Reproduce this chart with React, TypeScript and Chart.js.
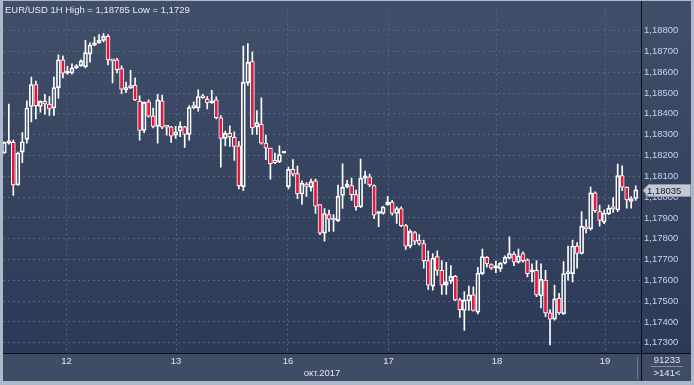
import React, { useEffect, useRef } from 'react';
import { Chart, registerables } from 'chart.js';

Chart.register(...registerables);

// ---- data (EUR/USD, 1H candles, 141 bars) ----
const opens = [
  1.18212, 1.18259, 1.18263, 1.18059, 1.18216, 1.18277, 1.18435, 1.18541, 1.18435, 1.1846,
  1.18447, 1.18428, 1.18526, 1.18659, 1.18595, 1.18596, 1.1862, 1.18631, 1.18626, 1.18687,
  1.1873, 1.18741, 1.18753, 1.18772, 1.18659, 1.18659, 1.18617, 1.18515, 1.18526, 1.18537,
  1.1846, 1.1832, 1.18458, 1.18389, 1.1834, 1.18463, 1.1834, 1.18337, 1.18298, 1.18317,
  1.18337, 1.18301, 1.1843, 1.18428, 1.18483, 1.18471, 1.18453, 1.18467, 1.18381, 1.18282,
  1.18306, 1.18287, 1.18246, 1.1805, 1.18549, 1.18651, 1.18337, 1.1835, 1.18259, 1.18235,
  1.18176, 1.18169, 1.18212, 1.1805, 1.18133, 1.18113, 1.18015, 1.18062, 1.18047, 1.18078,
  1.17964, 1.17827, 1.17916, 1.17893, 1.17887, 1.18008, 1.1805, 1.18055, 1.18012, 1.17953,
  1.18091, 1.18097, 1.18055, 1.17921, 1.17921, 1.17964, 1.17976, 1.17921, 1.17945, 1.17863,
  1.17764, 1.1783, 1.17794, 1.17777, 1.17695, 1.17572, 1.17714, 1.17648, 1.17577, 1.17596,
  1.17619, 1.17506, 1.17455, 1.17502, 1.1753, 1.17447, 1.17632, 1.1771, 1.17676, 1.1766,
  1.17656, 1.17682, 1.17706, 1.17726, 1.17687, 1.17729, 1.17698, 1.1764, 1.17648, 1.17525,
  1.17601, 1.17444, 1.17414, 1.17514, 1.17439, 1.17632, 1.17632, 1.17765, 1.17729, 1.17855,
  1.17847, 1.1802, 1.1793, 1.17879, 1.17919, 1.17951, 1.17938, 1.18103, 1.18048, 1.17979,
  1.17993,
];
const highs = [
  1.18265, 1.18447, 1.18274, 1.18216, 1.1831, 1.18463, 1.18576, 1.18557, 1.18463, 1.18494,
  1.18483, 1.18577, 1.18683, 1.18679, 1.18628, 1.1864, 1.18636, 1.18659, 1.18753, 1.18741,
  1.18769, 1.18781, 1.18785, 1.18781, 1.18659, 1.18667, 1.18631, 1.18552, 1.18609, 1.18573,
  1.18486, 1.18458, 1.18467, 1.18427, 1.18494, 1.1849, 1.18345, 1.1834, 1.1834, 1.18361,
  1.1834, 1.18439, 1.18458, 1.18515, 1.18494, 1.18483, 1.18513, 1.18482, 1.18392, 1.18317,
  1.18342, 1.18314, 1.18267, 1.18725, 1.18738, 1.18698, 1.18416, 1.18477, 1.18298, 1.18235,
  1.18212, 1.18246, 1.18212, 1.18144, 1.1818, 1.18149, 1.18078, 1.1807, 1.18086, 1.18086,
  1.17964, 1.17945, 1.17937, 1.17916, 1.18058, 1.1816, 1.18081, 1.18091, 1.18034, 1.18183,
  1.18125, 1.1811, 1.18059, 1.17929, 1.17956, 1.18004, 1.17984, 1.17953, 1.17953, 1.17869,
  1.17843, 1.17835, 1.1782, 1.17794, 1.17742, 1.17729, 1.17742, 1.17695, 1.17687, 1.17671,
  1.17624, 1.17514, 1.17546, 1.17572, 1.17569, 1.17663, 1.1775, 1.17714, 1.17679, 1.17692,
  1.17687, 1.17718, 1.17809, 1.17737, 1.1775, 1.17737, 1.17703, 1.17679, 1.17695, 1.17679,
  1.17648, 1.17459, 1.17577, 1.17538, 1.1769, 1.17765, 1.17794, 1.17781, 1.1793, 1.17892,
  1.18048, 1.18025, 1.17962, 1.17938, 1.17962, 1.17998, 1.18158, 1.1815, 1.18049, 1.18003,
  1.18054,
];
const lows = [
  1.1821, 1.18254, 1.18008, 1.18056, 1.18165, 1.18259, 1.18361, 1.18376, 1.18408, 1.18397,
  1.18392, 1.18392, 1.18475, 1.18573, 1.18591, 1.18591, 1.18617, 1.18628, 1.1862, 1.18648,
  1.18727, 1.18738, 1.18745, 1.18635, 1.18549, 1.18596, 1.18497, 1.18502, 1.18521, 1.18463,
  1.18274, 1.18309, 1.18384, 1.18332, 1.18259, 1.18329, 1.18298, 1.18263, 1.18282, 1.1829,
  1.18238, 1.18274, 1.18424, 1.18413, 1.18474, 1.18424, 1.1845, 1.18376, 1.18144, 1.18246,
  1.18243, 1.18176, 1.18039, 1.18031, 1.18537, 1.18301, 1.18301, 1.18254, 1.1818, 1.18086,
  1.1816, 1.18165, 1.18212, 1.18039, 1.18102, 1.17992, 1.17965, 1.18003, 1.18028, 1.17921,
  1.17819, 1.17788, 1.17835, 1.17835, 1.17882, 1.17945, 1.18044, 1.17984, 1.17937, 1.17949,
  1.18066, 1.1805, 1.17896, 1.17858, 1.17918, 1.1796, 1.17913, 1.17874, 1.17858, 1.17748,
  1.17756, 1.17772, 1.17769, 1.17659, 1.17557, 1.17553, 1.17624, 1.17533, 1.17533, 1.17585,
  1.17502, 1.17422, 1.17359, 1.17455, 1.17452, 1.17439, 1.17627, 1.17663, 1.17652, 1.17637,
  1.17643, 1.17679, 1.17703, 1.17671, 1.17682, 1.17687, 1.17616, 1.17593, 1.17522, 1.17467,
  1.17425, 1.1729, 1.17409, 1.17436, 1.17436, 1.17601, 1.17593, 1.17659, 1.17726, 1.17828,
  1.17841, 1.17926, 1.1786, 1.17872, 1.17915, 1.17926, 1.1793, 1.18031, 1.17947, 1.17947,
  1.17984,
];
const closes = [
  1.18263, 1.1827, 1.18059, 1.18212, 1.18266, 1.18428, 1.18541, 1.18439, 1.1846, 1.18447,
  1.18424, 1.18526, 1.18659, 1.18595, 1.18596, 1.1862, 1.18631, 1.18654, 1.18694, 1.1873,
  1.18741, 1.18753, 1.18772, 1.18659, 1.18654, 1.18612, 1.18518, 1.18526, 1.18534, 1.18467,
  1.1832, 1.18455, 1.18389, 1.1834, 1.18467, 1.18336, 1.18336, 1.18293, 1.18314, 1.1834,
  1.18301, 1.1843, 1.18439, 1.18483, 1.18477, 1.18452, 1.18461, 1.18381, 1.18282, 1.18306,
  1.1829, 1.18243, 1.18055, 1.18552, 1.18647, 1.18333, 1.18358, 1.18259, 1.18235, 1.1816,
  1.18165, 1.18204, 1.18212, 1.18133, 1.1811, 1.18015, 1.18066, 1.18051, 1.18075, 1.17956,
  1.17827, 1.17921, 1.17894, 1.1789, 1.18004, 1.18047, 1.18062, 1.18012, 1.17953, 1.18091,
  1.18102, 1.18058, 1.17913, 1.17923, 1.17953, 1.17976, 1.17921, 1.17945, 1.17863, 1.17764,
  1.17835, 1.17788, 1.17777, 1.17695, 1.17577, 1.17706, 1.17648, 1.17577, 1.17593, 1.17619,
  1.17506, 1.17459, 1.17506, 1.1753, 1.17455, 1.17635, 1.17714, 1.17679, 1.17659, 1.17662,
  1.17682, 1.1771, 1.17729, 1.17687, 1.17718, 1.17695, 1.17632, 1.17651, 1.1753, 1.17605,
  1.17444, 1.17414, 1.17511, 1.17444, 1.17632, 1.1764, 1.17765, 1.17729, 1.1786, 1.17847,
  1.1802, 1.17935, 1.17888, 1.17923, 1.17946, 1.17943, 1.18103, 1.18048, 1.17986, 1.17993,
  1.18035,
];

const dayLabels = ['12', '13', '16', '17', '18', '19'];
const dayPositions = [13.79, 38.07, 62.9, 85.19, 109.24, 133.19];
const priceTicks = [
  1.173, 1.174, 1.175, 1.176, 1.177, 1.178, 1.179, 1.18,
  1.181, 1.182, 1.183, 1.184, 1.185, 1.186, 1.187, 1.188,
];
const lastPrice = 1.18035;
const titleText = 'EUR/USD 1H High = 1,18785 Low = 1,1729';
const monthLabel = 'окт.2017';
const volumeText = '91233';
const barsText = '>141<';

const FONT = '"Liberation Sans", Arial, sans-serif';
const fmt = (v: number) => v.toFixed(5).replace('.', ',');

const decorPlugin = {
  id: 'decor',
  beforeDraw(chart: any) {
    const { ctx, width, height } = chart;
    ctx.save();
    ctx.fillStyle = '#adb8c8';
    ctx.fillRect(0, 0, width, height);
    const g = ctx.createLinearGradient(0, 0, 0, 353);
    g.addColorStop(0, '#414f6b');
    g.addColorStop(0.5, '#36445f');
    g.addColorStop(1, '#2c3a58');
    ctx.fillStyle = g;
    ctx.fillRect(3, 1, 688, 352);
    ctx.fillStyle = '#3e4c68';
    ctx.fillRect(3, 354, 688, 27);
    ctx.restore();
  },
  afterDraw(chart: any) {
    const { ctx } = chart;
    const y = chart.scales.y;
    ctx.save();
    // axis separator lines
    ctx.strokeStyle = '#0b0f18';
    ctx.lineWidth = 1;
    ctx.beginPath();
    ctx.moveTo(3, 353.5);
    ctx.lineTo(691, 353.5);
    ctx.moveTo(641.5, 1);
    ctx.lineTo(641.5, 381);
    ctx.stroke();
    // bottom-right info box
    ctx.strokeStyle = '#6d7a90';
    ctx.beginPath();
    ctx.moveTo(637.5, 357);
    ctx.lineTo(637.5, 379);
    ctx.stroke();
    ctx.strokeStyle = '#8390a5';
    ctx.beginPath();
    ctx.moveTo(651, 366.5);
    ctx.lineTo(683, 366.5);
    ctx.stroke();
    ctx.font = `9.5px ${FONT}`;
    ctx.fillStyle = '#dfe5ee';
    ctx.textAlign = 'center';
    ctx.textBaseline = 'middle';
    ctx.fillText(volumeText, 667, 360.5);
    ctx.fillText(barsText, 667, 373);
    // title
    ctx.textAlign = 'left';
    ctx.textBaseline = 'alphabetic';
    ctx.fillStyle = '#e3e8f0';
    ctx.fillText(titleText, 5, 13);
    // last price marker
    const py = Math.round(y.getPixelForValue(lastPrice)) + 0.5;
    ctx.beginPath();
    ctx.moveTo(643, py);
    ctx.lineTo(648.5, py - 6);
    ctx.lineTo(690.5, py - 6);
    ctx.lineTo(690.5, py + 6);
    ctx.lineTo(648.5, py + 6);
    ctx.closePath();
    ctx.fillStyle = '#c4cad3';
    ctx.fill();
    ctx.strokeStyle = '#8e97a6';
    ctx.stroke();
    ctx.fillStyle = '#0e1526';
    ctx.textBaseline = 'middle';
    ctx.fillText(fmt(lastPrice), 647, py + 0.5);
    ctx.restore();
  },
};

export default function App() {
  const canvasRef = useRef<HTMLCanvasElement | null>(null);

  useEffect(() => {
    document.body.style.margin = '0';
    const canvas = canvasRef.current;
    if (!canvas) return;
    const idx = opens.map((_, i) => i);
    const bodyLo = idx.map((i) => Math.min(opens[i], closes[i]));
    const bodyHi = idx.map((i) => Math.max(opens[i], closes[i]));
    const gridColor = '#566480';

    const chart = new Chart(canvas, {
      type: 'bar',
      data: {
        datasets: [
          {
            label: 'upper wick',
            data: idx.map((i) => ({ x: i, y: [bodyHi[i], highs[i]] })) as any,
            backgroundColor: '#ffffff',
            borderWidth: 0,
            barThickness: 1,
            grouped: false,
            order: 2,
          } as any,
          {
            label: 'lower wick',
            data: idx.map((i) => ({ x: i, y: [lows[i], bodyLo[i]] })) as any,
            backgroundColor: '#ffffff',
            borderWidth: 0,
            barThickness: 1,
            grouped: false,
            order: 2,
          } as any,
          {
            label: 'body',
            data: idx.map((i) => ({ x: i, y: [bodyLo[i], bodyHi[i]] })) as any,
            backgroundColor: idx.map((i) => (closes[i] < opens[i] ? '#e3163d' : 'rgba(0,0,0,0)')),
            borderColor: '#ffffff',
            borderWidth: 1,
            borderSkipped: false,
            barThickness: 4,
            minBarLength: 2,
            grouped: false,
            order: 1,
          } as any,
        ],
      },
      options: {
        responsive: false,
        animation: false,
        events: [],
        layout: { padding: { left: 3, right: 3, top: 1, bottom: 4 } },
        plugins: { legend: { display: false }, tooltip: { enabled: false } },
        scales: {
          x: {
            type: 'linear',
            min: -0.288,
            max: 141.17,
            offset: false,
            afterBuildTicks: (s: any) => {
              s.ticks = dayPositions.map((v) => ({ value: v }));
            },
            afterFit: (s: any) => {
              s.height = 28;
            },
            ticks: {
              autoSkip: false,
              maxRotation: 0,
              padding: 3,
              color: '#dfe5ee',
              font: { family: FONT, size: 9.5 },
              callback: (_v: any, i: number) => dayLabels[i],
            },
            grid: { color: gridColor, drawTicks: false, offset: false, lineWidth: 1 },
            border: { display: false, dash: [2, 3] },
            title: {
              display: true,
              text: monthLabel,
              color: '#dfe5ee',
              font: { family: FONT, size: 9.5 },
              padding: { top: 0, bottom: 2 },
            },
          } as any,
          y: {
            type: 'linear',
            position: 'right',
            min: 1.17251,
            max: 1.18905,
            afterBuildTicks: (s: any) => {
              s.ticks = priceTicks.map((v) => ({ value: v }));
            },
            afterFit: (s: any) => {
              s.width = 50;
            },
            ticks: {
              padding: 3,
              crossAlign: 'near',
              color: '#c0d3ef',
              font: { family: FONT, size: 9.5 },
              callback: (v: any) => fmt(Number(v)),
            },
            grid: { color: gridColor, drawTicks: false, lineWidth: 1 },
            border: { display: false, dash: [2, 3] },
          } as any,
        },
      },
      plugins: [decorPlugin],
    });
    return () => chart.destroy();
  }, []);

  return (
    <div style={{ width: 694, height: 385, position: 'relative' }}>
      <canvas ref={canvasRef} width={694} height={385} style={{ display: 'block', width: 694, height: 385 }} />
    </div>
  );
}
